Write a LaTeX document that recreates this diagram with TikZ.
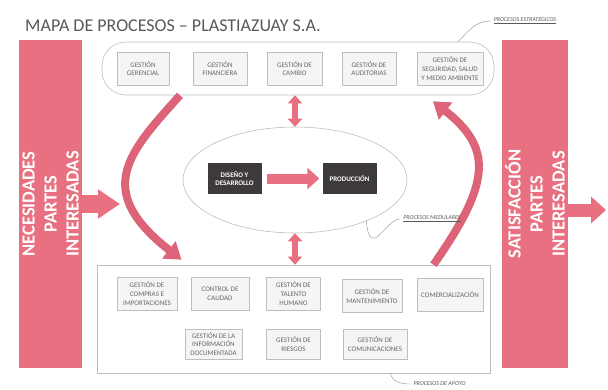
\documentclass[tikz,border=0pt]{standalone}
\usepackage{fontspec}
\setmainfont{Carlito}
\usepackage{tikz}
\usetikzlibrary{shapes.geometric,arrows.meta}

\definecolor{rosa}{RGB}{232,112,128}
\definecolor{rosaosc}{RGB}{221,100,120}
\definecolor{oscuro}{RGB}{62,58,60}
\definecolor{marco}{RGB}{190,190,190}
\definecolor{relleno}{RGB}{246,244,247}
\definecolor{titgris}{RGB}{88,88,88}

\begin{document}
\begin{tikzpicture}[x=1pt,y=1pt,
        proc/.style={
          draw=marco,
          fill=relleno,
          line width=0.5pt,
          align=center,
          inner sep=1pt,
          minimum height=33pt,
          text=black!60,
          font=\fontsize{7}{8.6}\selectfont
        },
        oscu/.style={
          fill=oscuro,
          text=white,
          align=center,
          minimum width=54pt,
          minimum height=31pt,
          font=\fontsize{7}{8.6}\selectfont\bfseries
        },
        barra/.style={
          fill=rosa,
          rotate=90,
          minimum width=328pt,
          minimum height=62pt,
          text=white,
          align=center,
          font=\fontsize{18.5}{22}\selectfont\bfseries
        },
        grupo/.style={draw=marco,line width=0.6pt},
        flecha/.style={draw=rosa,line width=18pt,-{Triangle[width=28pt,length=22pt]}},
        doble/.style={draw=rosa,line width=6pt,{Triangle[width=14pt,length=8pt]}-{Triangle[width=14pt,length=8pt]}},
        curva/.style={draw=rosaosc,line width=8pt,-{Triangle[width=21pt,length=16pt]}},
        nota/.style={font=\fontsize{6}{7}\selectfont\itshape,text=titgris},
        llamada/.style={draw=black!45,line width=0.4pt}
        ]
        \useasboundingbox (0,0) rectangle (608,-389);

        \node[anchor=base west,inner sep=0pt,text=titgris,font=\fontsize{18}{20}\selectfont]
          (tit) at (25,-31) {MAPA DE PROCESOS – PLASTIAZUAY S.A.};

        \node[barra] (nec) at (50.5,-204) {NECESIDADES\\PARTES\\INTERESADAS};
        \node[barra] (sat) at (535,-204) {SATISFACCIÓN\\PARTES\\INTERESADAS};
        \coordinate (nt) at (120,-204);
        \coordinate (st) at (606,-210);
        \draw[flecha] (nec.south) -- (nt);
        \draw[flecha,line width=13pt,-{Triangle[width=26pt,length=15pt]}] ([yshift=-6pt]sat.south) -- (st);

        \node[grupo,rounded corners=24pt,minimum width=392pt,minimum height=53pt] 
          (est) at (298,-68.5) {};
        \node[proc,minimum width=52pt] (g1) at (143,-68.5) {GESTIÓN\\GERENCIAL};
        \node[proc,minimum width=54pt] (g2) at (220,-68.5) {GESTIÓN\\FINANCIERA};
        \node[proc,minimum width=55pt] (g3) at (294.5,-68.5) {GESTIÓN DE\\CAMBIO};
        \node[proc,minimum width=54pt] (g4) at (369,-68.5) {GESTIÓN DE\\AUDITORIAS};
        \node[proc,minimum width=66pt] (g5) at (450,-68.5) {GESTIÓN DE\\SEGURIDAD, SALUD\\Y MEDIO AMBIENTE};

        \node[grupo,ellipse,minimum width=224pt,minimum height=106pt] (med) at (295,-180) {};
        \node[oscu] (dis) at (234.5,-178.5) {DISEÑO Y\\DESARROLLO};
        \node[oscu] (prod) at (349.5,-178.5) {PRODUCCIÓN};
        \draw[rosa,line width=10pt,-{Triangle[width=21pt,length=12pt]},shorten <=5pt,shorten >=3pt] 
          (dis) -- (prod);

        \node[grupo,minimum width=393pt,minimum height=108pt] (apo) at (293.5,-319) {};
        \node[proc,minimum width=60pt] (a1) at (147,-293.5) {GESTIÓN DE\\COMPRAS E\\IMPORTACIONES};
        \node[proc,minimum width=58pt] (a2) at (220,-293.5) {CONTROL DE\\CALIDAD};
        \node[proc,minimum width=54pt] (a3) at (293.5,-293.5) {GESTIÓN DE\\TALENTO\\HUMANO};
        \node[proc,minimum width=60pt] (a4) at (372,-296) {GESTIÓN DE\\MANTENIMIENTO};
        \node[proc,minimum width=66pt] (a5) at (450,-295) {COMERCIALIZACIÓN};
        \node[proc,minimum width=57pt,minimum height=30pt] (a6) at (213.5,-344) {GESTIÓN DE LA\\INFORMACIÓN\\DOCUMENTADA};
        \node[proc,minimum width=54pt,minimum height=30pt] (a7) at (293.5,-344) {GESTIÓN DE\\RIESGOS};
        \node[proc,minimum width=64pt,minimum height=30pt] (a8) at (375,-344) {GESTIÓN DE\\COMUNICACIONES};

        \draw[doble] (est.south -| med.north) -- (med.north);
        \draw[doble] (med.south) -- (med.south |- apo.north);
        \draw[curva] ([xshift=-118pt]est.south) to[out=228,in=142,out looseness=1.2,in looseness=1.75] 
          ([xshift=-112pt,yshift=5pt]apo.north);
        \draw[curva] ([xshift=140pt]apo.north) to[out=55,in=-38,out looseness=1.55,in looseness=1.2] 
          ([xshift=135pt,yshift=-6pt]est.south);

        \node[nota] (lest) at (525,-21) {\underline{PROCESOS ESTRATEGICOS}};
        \node[nota] (lmed) at (432,-219) {\underline{PROCESOS MEDULARES}};
        \node[nota,anchor=west] (lapo) at (410,-384) {PROCESOS DE APOYO};
        \draw[llamada] (lest.west) to[out=180,in=45] ([xshift=160pt]est.north);
        \draw[llamada] (lmed.west) .. controls +(-14,0) and +(4,-40) .. (med.-30);
        \draw[llamada] ([xshift=97pt]apo.south) to[out=-80,in=180] (lapo.west);
    \end{tikzpicture}
\end{document}
